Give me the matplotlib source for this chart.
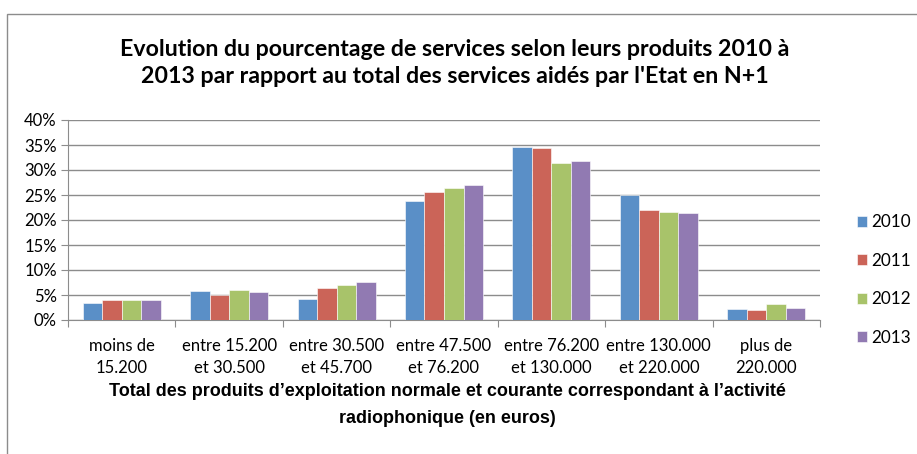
import numpy as np
import matplotlib
matplotlib.use('Agg')
import matplotlib.pyplot as plt
from matplotlib.patches import Rectangle

categories = ['moins de\n15.200', 'entre 15.200\net 30.500', 'entre 30.500\net 45.700',
              'entre 47.500\net 76.200', 'entre 76.200\net 130.000', 'entre 130.000\net 220.000',
              'plus de\n220.000']
years = ['2010', '2011', '2012', '2013']
v2010 = [3.4, 5.8, 4.3, 23.9, 34.6, 25.0, 2.3]
v2011 = [4.1, 5.1, 6.5, 25.5, 34.3, 22.0, 2.1]
v2012 = [4.1, 6.1, 7.0, 26.3, 31.4, 21.6, 3.2]
v2013 = [4.1, 5.6, 7.6, 27.0, 31.7, 21.3, 2.5]
yticks = [0, 5, 10, 15, 20, 25, 30, 35, 40]

colors = ['#5A8FC7', '#CB6458', '#A8C36A', '#917AB2']
series = [v2010, v2011, v2012, v2013]

W, H = 917, 454
fig = plt.figure(figsize=(W / 100, H / 100), dpi=100)
ax = fig.add_axes([68 / W, 1 - 320 / H, (820 - 68) / W, 200 / H])

# outer chart border
fig.patches.append(Rectangle((7 / W, -0.05), 1.0, 1 - 14 / H + 0.05, transform=fig.transFigure,
                             fill=False, edgecolor='#8c8c8c', linewidth=1.0))

x = np.arange(len(categories))
bw = 1 / 5.5
for i, (vals, c, lab) in enumerate(zip(series, colors, years)):
    ax.bar(x + (i - 1.5) * bw, vals, width=bw, color=c, label=lab, zorder=3,
           edgecolor='white', linewidth=0.4)

ax.set_xlim(-0.5, len(categories) - 0.5)
ax.set_ylim(0, 40)
ax.set_yticks(yticks)
ax.set_yticklabels([f'{t}%' for t in yticks], fontsize=12, family='Lato')
ax.yaxis.grid(True, color='#8c8c8c', linewidth=1.0, zorder=0)
ax.tick_params(axis='y', length=5, color='#8c8c8c', pad=3)

ax.set_xticks(np.arange(-0.5, len(categories)), labels=[])
ax.set_xticks(x, minor=True)
ax.set_xticklabels(categories, minor=True, fontsize=12, family='Lato', linespacing=1.45)
ax.tick_params(axis='x', which='major', length=5, color='#8c8c8c', direction='out')
ax.tick_params(axis='x', which='minor', length=0, pad=13)

for s in ['top', 'right']:
    ax.spines[s].set_visible(False)
for s in ['left', 'bottom']:
    ax.spines[s].set_color('#8c8c8c')

fig.text(455 / W, 1 - 63 / H,
         "Evolution du pourcentage de services selon leurs produits 2010 à\n2013 par rapport au total des services aidés par l'Etat en N+1",
         ha='center', va='center', fontsize=16.7, fontweight='bold', family='Lato', linespacing=1.3)
fig.text(447 / W, 1 - 405 / H,
         "Total des produits d\u2019exploitation normale et courante correspondant à l\u2019activité\nradiophonique (en euros)",
         ha='center', va='center', fontsize=13, fontweight='bold', family='Liberation Sans', linespacing=1.7)

fig.legend(loc='center left', bbox_to_anchor=(848 / W, 1 - 280 / H), frameon=False,
           prop={'family': 'Lato', 'size': 12.3}, handlelength=0.6, handleheight=0.6,
           handletextpad=0.25, labelspacing=1.32, borderpad=0)

fig.savefig('out.png', dpi=100)
